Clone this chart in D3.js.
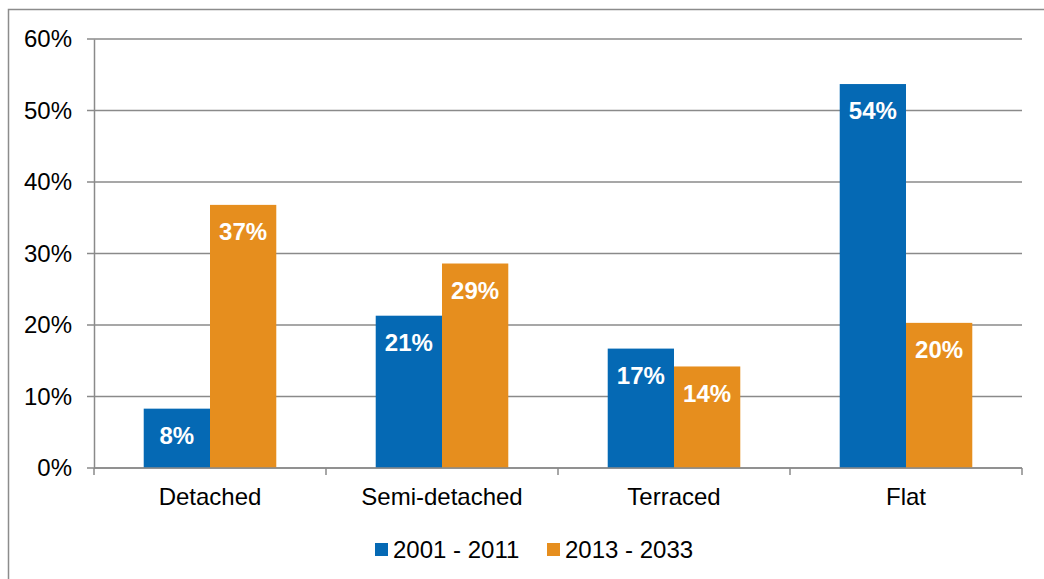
<!DOCTYPE html>
<html>
<head>
<meta charset="utf-8">
<script src="https://cdn.jsdelivr.net/npm/d3@7"></script>
<style>
  body { margin: 0; background: #fff; }
  text { font-family: "Liberation Sans", Arial, sans-serif; }
</style>
</head>
<body>
<div id="chart"></div>
<script>
// chart data
const categories = ["Detached", "Semi-detached", "Terraced", "Flat"];
const seriesNames = ["2001 - 2011", "2013 - 2033"];
const values2001 = [0.083, 0.213, 0.167, 0.537];
const values2013 = [0.368, 0.286, 0.142, 0.203];
const yTicks = [0, 0.1, 0.2, 0.3, 0.4, 0.5, 0.6];
const colors = ["#0569b4", "#e68e1e"];

const width = 1044, height = 579;
const margin = { top: 39, right: 22, bottom: 111, left: 94 };
const fontSize = 24;

const svg = d3.select("#chart").append("svg")
    .attr("width", width)
    .attr("height", height);

// outer chart border (right and bottom fall off the picture)
svg.append("rect")
    .attr("x", 8.5).attr("y", 9.5)
    .attr("width", 1100).attr("height", 700)
    .attr("fill", "none")
    .attr("stroke", "#8c8c8c")
    .attr("stroke-width", 1.5);

const x0 = d3.scaleBand()
    .domain(categories)
    .range([margin.left, width - margin.right])
    .paddingInner(0).paddingOuter(0);

// gap width 150% -> two bars take 2/3.5 of the band
const barW = x0.bandwidth() / 3.5;

const y = d3.scaleLinear()
    .domain([0, 0.6])
    .range([height - margin.bottom, margin.top]);

// gridlines
svg.append("g")
    .selectAll("line")
    .data(yTicks)
    .join("line")
    .attr("x1", margin.left - 7)
    .attr("x2", width - margin.right)
    .attr("y1", d => y(d))
    .attr("y2", d => y(d))
    .attr("stroke", "#8a8a8a")
    .attr("stroke-width", 1.5);

// y axis
const yAxis = svg.append("g")
    .attr("transform", `translate(${margin.left},0)`)
    .call(d3.axisLeft(y).tickValues(yTicks).tickFormat(d3.format(".0%")).tickSize(0).tickPadding(22));
yAxis.select(".domain").attr("stroke", "#8a8a8a").attr("stroke-width", 1.5);
yAxis.selectAll("text").attr("font-size", fontSize).attr("fill", "#000")
    .style("font-family", "'Liberation Sans', Arial, sans-serif");

// bars
const groups = svg.append("g")
    .selectAll("g")
    .data(categories)
    .join("g")
    .attr("transform", d => `translate(${x0(d) + x0.bandwidth() / 2 - barW},0)`);

const seriesVals = [values2001, values2013];
seriesVals.forEach((vals, s) => {
    groups.append("rect")
        .attr("x", s * barW)
        .attr("y", (d, i) => y(vals[i]))
        .attr("width", barW)
        .attr("height", (d, i) => y(0) - y(vals[i]))
        .attr("fill", colors[s]);

    groups.append("text")
        .attr("x", s * barW + barW / 2)
        .attr("y", (d, i) => y(vals[i]) + 27)
        .attr("dy", "0.35em")
        .attr("text-anchor", "middle")
        .attr("fill", "#fff")
        .attr("font-size", fontSize)
        .attr("font-weight", "bold")
        .text((d, i) => d3.format(".0%")(vals[i]));
});

// x axis
const xAxis = svg.append("g")
    .attr("transform", `translate(0,${y(0)})`);
xAxis.append("line")
    .attr("x1", margin.left).attr("x2", width - margin.right)
    .attr("stroke", "#8a8a8a").attr("stroke-width", 1.5);
xAxis.selectAll(".tick-mark")
    .data(categories.concat(["end"]))
    .join("line")
    .attr("x1", (d, i) => i < categories.length ? x0(d) : width - margin.right)
    .attr("x2", (d, i) => i < categories.length ? x0(d) : width - margin.right)
    .attr("y1", 0).attr("y2", 7)
    .attr("stroke", "#8a8a8a").attr("stroke-width", 1.5);
xAxis.selectAll(".cat")
    .data(categories)
    .join("text")
    .attr("x", d => x0(d) + x0.bandwidth() / 2)
    .attr("y", 29)
    .attr("dy", "0.35em")
    .attr("text-anchor", "middle")
    .attr("font-size", fontSize)
    .attr("fill", "#000")
    .text(d => d);

// legend
const legendX = [375, 547];
const legend = svg.append("g")
    .selectAll("g")
    .data(seriesNames)
    .join("g")
    .attr("transform", (d, i) => `translate(${legendX[i]},543)`);
legend.append("rect")
    .attr("width", 13).attr("height", 13)
    .attr("fill", (d, i) => colors[i]);
legend.append("text")
    .attr("x", 18).attr("y", 6.5)
    .attr("dy", "0.35em")
    .attr("font-size", fontSize)
    .attr("fill", "#000")
    .text(d => d);
</script>
</body>
</html>
